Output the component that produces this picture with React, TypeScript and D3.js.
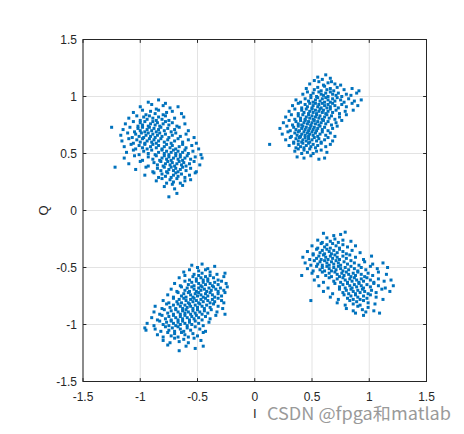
import React from "react";
import * as d3 from "d3";

// Constellation samples, [I, Q] in hundredths (value / 100)
const clusterNE: number[][] = [
  [55,117],[62,119],[66,116],[59,115],
  [48,111],[56,113],[60,110],[64,112],[70,111],[52,114],[67,113],[75,110],
  [45,107],[52,106],[55,108],[58,105],[61,109],[63,106],[66,107],[69,105],[72,108],[78,106],[85,107],[91,105],
  [42,102],[46,104],[49,101],[51,103],[54,100],[56,104],[58,102],[60,101],[62,103],[64,100],[66,104],[68,102],[71,101],[73,103],[76,100],[80,102],[84,101],[89,103],
  [36,97],[40,95],[44,98],[47,96],[49,99],[51,95],[53,97],[55,99],[57,96],[59,98],[61,95],[62,99],[64,97],[66,95],[68,98],[70,96],[72,99],[75,97],[78,95],[82,98],[87,96],[93,97],
  [33,92],[38,94],[41,90],[44,93],[46,91],[48,94],[50,90],[51,92],[53,94],[55,91],[56,93],[58,90],[59,94],[61,92],[63,90],[64,93],[66,91],[68,94],[70,92],[73,90],[76,93],[80,91],[85,94],[90,92],
  [30,87],[35,89],[38,85],[41,88],[43,86],[45,89],[47,85],[48,87],[50,89],[51,86],[53,88],[54,85],[56,87],[57,89],[59,86],[60,88],[62,85],[64,87],[66,89],[68,86],[71,88],[74,85],[79,87],[86,88],
  [27,82],[32,84],[35,80],[38,83],[40,81],[42,84],[44,80],[45,82],[47,84],[48,81],[50,83],[51,80],[53,82],[54,84],[56,81],[57,83],[59,80],[61,82],[63,84],[65,81],[67,83],[70,80],[74,82],[80,84],
  [25,77],[30,79],[33,75],[36,78],[38,76],[40,79],[41,75],[43,77],[44,79],[46,76],[47,78],[49,75],[50,77],[52,79],[53,76],[55,78],[56,75],[58,77],[60,79],[62,76],[64,78],[67,75],[71,77],[76,79],
  [22,72],[28,74],[31,70],[34,73],[36,71],[38,74],[39,70],[41,72],[42,74],[44,71],[45,73],[47,70],[48,72],[49,74],[51,71],[52,73],[54,70],[55,72],[57,74],[59,71],[61,73],[64,70],[68,72],[72,74],
  [24,67],[29,69],[32,65],[35,68],[37,66],[38,69],[40,65],[41,67],[43,69],[44,66],[46,68],[47,65],[48,67],[50,69],[51,66],[53,68],[55,65],[57,67],[59,69],[62,66],[66,68],[70,65],
  [27,62],[31,64],[34,60],[36,63],[38,61],[39,64],[41,60],[42,62],[44,64],[45,61],[47,63],[48,60],[50,62],[52,64],[54,61],[56,63],[58,60],[61,62],[64,64],[68,61],
  [30,57],[34,59],[36,55],[38,58],[40,56],[42,59],[43,55],[45,57],[47,59],[49,56],[51,58],[53,55],[55,57],[58,59],[62,56],[66,58],
  [35,52],[38,54],[41,50],[43,53],[46,51],[48,54],[51,50],[54,52],[58,53],[63,51],
  [37,47],[43,46],[49,48],[56,45],[61,46],
  [13,58]
];

const clusterNW: number[][] = [
  [-84,97],[-93,95],[-78,94],
  [-100,91],[-90,93],[-86,89],[-80,92],[-74,90],[-67,91],
  [-106,86],[-98,88],[-95,84],[-91,87],[-87,85],[-84,88],[-80,84],[-77,86],[-72,87],[-64,85],
  [-110,81],[-103,83],[-100,79],[-97,82],[-94,80],[-92,83],[-89,81],[-86,79],[-84,82],[-81,80],[-78,83],[-75,79],[-70,81],[-62,82],
  [-113,76],[-106,78],[-102,74],[-100,77],[-98,75],[-96,78],[-93,74],[-91,76],[-89,78],[-87,75],[-85,77],[-83,74],[-80,76],[-78,78],[-75,75],[-72,77],[-68,74],[-61,76],
  [-125,73],
  [-115,71],[-109,73],[-105,69],[-102,72],[-100,70],[-98,73],[-96,69],[-94,71],[-92,73],[-90,70],[-88,72],[-86,69],[-84,71],[-82,73],[-79,70],[-76,72],[-73,69],[-70,71],[-66,73],[-58,70],
  [-117,66],[-111,68],[-107,64],[-104,67],[-101,65],[-99,68],[-97,64],[-95,66],[-93,68],[-91,65],[-89,67],[-87,64],[-85,66],[-83,68],[-81,65],[-78,67],[-75,64],[-72,66],[-69,68],[-65,65],[-60,67],[-53,64],
  [-116,61],[-110,63],[-106,59],[-103,62],[-100,60],[-98,63],[-96,59],[-94,61],[-92,63],[-90,60],[-88,62],[-86,59],[-84,61],[-82,63],[-79,60],[-76,62],[-73,59],[-70,61],[-67,63],[-63,60],[-58,62],[-51,59],
  [-114,56],[-108,58],[-104,54],[-101,57],[-98,55],[-96,58],[-94,54],[-91,56],[-89,58],[-86,55],[-84,57],[-81,54],[-79,56],[-77,58],[-74,55],[-72,57],[-69,54],[-66,56],[-63,58],[-60,55],[-55,57],[-49,54],
  [-112,51],[-106,53],[-101,49],[-97,52],[-93,50],[-90,53],[-87,49],[-84,51],[-81,53],[-79,50],[-77,52],[-75,49],[-73,51],[-71,53],[-69,50],[-67,52],[-65,49],[-63,51],[-61,53],[-58,50],[-54,52],[-47,49],
  [-114,46],[-105,48],[-98,44],[-93,47],[-89,45],[-86,48],[-83,44],[-81,46],[-79,48],[-77,45],[-75,47],[-73,44],[-71,46],[-69,48],[-67,45],[-65,47],[-63,44],[-61,46],[-59,48],[-56,45],[-52,47],[-46,46],
  [-110,41],[-100,43],[-93,39],[-88,42],[-85,40],[-82,43],[-80,39],[-78,41],[-76,43],[-74,40],[-72,42],[-70,39],[-68,41],[-66,43],[-64,40],[-62,42],[-60,39],[-57,41],[-53,43],[-48,40],
  [-122,38],[-104,36],[-95,38],[-89,34],[-85,37],[-82,35],[-79,38],[-77,34],[-75,36],[-73,38],[-71,35],[-69,37],[-67,34],[-65,36],[-63,38],[-60,35],[-56,37],[-51,34],
  [-96,31],[-88,33],[-84,29],[-81,32],[-78,30],[-76,33],[-73,29],[-71,31],[-69,33],[-67,30],[-64,32],[-61,29],[-57,31],[-52,33],
  [-86,26],[-81,28],[-77,24],[-74,27],[-71,25],[-68,28],[-65,24],[-61,26],[-56,27],
  [-79,21],[-72,23],[-70,19],[-63,22],
  [-75,12],[-68,15]
];

const clusterSW: number[][] = [
  [-55,-48],[-50,-50],[-46,-47],[-41,-51],[-35,-49],
  [-62,-54],[-57,-52],[-53,-56],[-49,-53],[-46,-55],[-43,-52],[-39,-54],[-33,-56],[-26,-55],
  [-66,-59],[-61,-57],[-57,-61],[-54,-58],[-51,-60],[-49,-57],[-47,-59],[-45,-61],[-43,-58],[-41,-60],[-39,-57],[-36,-59],[-32,-61],[-27,-58],
  [-70,-64],[-65,-66],[-61,-62],[-58,-65],[-55,-63],[-53,-66],[-51,-62],[-49,-64],[-47,-66],[-45,-63],[-43,-65],[-41,-62],[-39,-64],[-37,-66],[-35,-63],[-32,-65],[-29,-62],[-25,-64],
  [-73,-69],[-68,-71],[-64,-67],[-61,-70],[-59,-68],[-57,-71],[-55,-67],[-53,-69],[-51,-71],[-49,-68],[-47,-70],[-46,-67],[-44,-69],[-42,-71],[-40,-68],[-38,-70],[-36,-67],[-34,-69],[-32,-71],[-30,-68],[-27,-70],[-24,-67],
  [-76,-74],[-71,-76],[-67,-72],[-64,-75],[-62,-73],[-60,-76],[-58,-72],[-56,-74],[-54,-76],[-52,-73],[-50,-75],[-49,-72],[-47,-74],[-45,-76],[-43,-73],[-41,-75],[-39,-72],[-37,-74],[-35,-76],[-32,-73],[-29,-75],[-26,-72],
  [-80,-79],[-75,-81],[-71,-77],[-68,-80],[-66,-78],[-64,-81],[-62,-77],[-60,-79],[-58,-81],[-56,-78],[-54,-80],[-53,-77],[-51,-79],[-49,-81],[-47,-78],[-45,-80],[-43,-77],[-41,-79],[-39,-81],[-37,-78],[-35,-80],[-32,-77],[-29,-79],[-27,-81],
  [-87,-84],[-81,-86],[-77,-82],[-74,-85],[-71,-83],[-69,-86],[-67,-82],[-65,-84],[-63,-86],[-61,-83],[-59,-85],[-57,-82],[-56,-84],[-54,-86],[-52,-83],[-50,-85],[-48,-82],[-46,-84],[-44,-86],[-42,-83],[-39,-85],[-36,-82],[-32,-84],[-28,-86],
  [-88,-89],[-83,-91],[-79,-87],[-76,-90],[-73,-88],[-71,-91],[-69,-87],[-67,-89],[-65,-91],[-63,-88],[-61,-90],[-60,-87],[-58,-89],[-56,-91],[-54,-88],[-52,-90],[-50,-87],[-48,-89],[-46,-91],[-44,-88],[-41,-90],[-38,-87],[-33,-89],[-26,-91],
  [-90,-94],[-85,-96],[-81,-92],[-78,-95],[-75,-93],[-73,-96],[-71,-92],[-69,-94],[-67,-96],[-65,-93],[-63,-95],[-61,-92],[-59,-94],[-57,-96],[-55,-93],[-53,-95],[-51,-92],[-49,-94],[-46,-96],[-43,-93],[-39,-95],[-34,-92],
  [-94,-99],[-88,-101],[-83,-97],[-80,-100],[-77,-98],[-75,-101],[-73,-97],[-71,-99],[-69,-101],[-67,-98],[-65,-100],[-63,-97],[-61,-99],[-59,-101],[-57,-98],[-55,-100],[-52,-97],[-49,-99],[-45,-101],[-40,-98],
  [-96,-103],[-95,-105],[-87,-104],[-82,-106],[-78,-102],[-75,-105],[-72,-103],[-70,-106],[-67,-102],[-65,-104],[-62,-106],[-59,-103],[-56,-105],[-52,-102],[-48,-104],[-43,-106],
  [-85,-109],[-80,-111],[-76,-107],[-73,-110],[-70,-108],[-67,-111],[-64,-107],[-61,-109],[-58,-111],[-54,-108],[-50,-110],[-45,-107],
  [-80,-114],[-74,-116],[-70,-112],[-66,-115],[-62,-113],[-58,-116],[-53,-112],[-47,-114],
  [-76,-118],[-66,-123],[-60,-119],[-52,-121],[-45,-119]
];

const clusterSE: number[][] = [
  [60,-20],[69,-22],[75,-21],[79,-19],
  [55,-26],[59,-28],[63,-24],[66,-27],[70,-25],[73,-28],[77,-26],[84,-27],
  [50,-31],[55,-33],[58,-29],[61,-32],[63,-30],[66,-33],[68,-29],[71,-31],[74,-33],[77,-30],[81,-32],[88,-31],
  [46,-36],[51,-38],[54,-34],[57,-37],[59,-35],[61,-38],[63,-34],[65,-36],[67,-38],[69,-35],[72,-37],[74,-34],[77,-36],[80,-38],[85,-35],[92,-37],
  [42,-41],[48,-43],[51,-39],[54,-42],[56,-40],[58,-43],[60,-39],[62,-41],[64,-43],[66,-40],[68,-42],[70,-39],[72,-41],[74,-43],[77,-40],[80,-42],[83,-39],[88,-41],[95,-43],[102,-40],
  [44,-46],[49,-48],[52,-44],[55,-47],[57,-45],[59,-48],[61,-44],[63,-46],[65,-48],[67,-45],[69,-47],[71,-44],[73,-46],[75,-48],[78,-45],[81,-47],[84,-44],[87,-46],[91,-48],[96,-45],[103,-47],[112,-46],
  [46,-51],[51,-53],[54,-49],[57,-52],[59,-50],[61,-53],[63,-49],[65,-51],[67,-53],[69,-50],[71,-52],[73,-49],[75,-51],[77,-53],[79,-50],[82,-52],[84,-49],[87,-51],[90,-53],[93,-50],[97,-52],[101,-49],[107,-51],[116,-50],
  [41,-57],[50,-55],[55,-58],[59,-54],[62,-57],[65,-55],[67,-58],[70,-54],[72,-56],[74,-58],[76,-55],[78,-57],[80,-54],[82,-56],[84,-58],[86,-55],[88,-57],[90,-54],[93,-56],[96,-58],[99,-55],[103,-57],[108,-54],[115,-56],
  [52,-61],[60,-63],[65,-59],[69,-62],[72,-60],[75,-63],[77,-59],[79,-61],[81,-63],[83,-60],[85,-62],[87,-59],[89,-61],[91,-63],[93,-60],[95,-62],[98,-59],[101,-61],[104,-63],[108,-60],[113,-62],[119,-61],
  [56,-66],[64,-68],[70,-64],[74,-67],[77,-65],[79,-68],[81,-64],[83,-66],[85,-68],[87,-65],[89,-67],[91,-64],[93,-66],[95,-68],[98,-65],[101,-67],[104,-64],[108,-66],[114,-68],[121,-66],
  [60,-71],[68,-73],[74,-69],[77,-72],[80,-70],[82,-73],[84,-69],[86,-71],[88,-73],[90,-70],[92,-72],[94,-69],[96,-71],[99,-73],[102,-70],[106,-72],[111,-69],[118,-71],
  [66,-76],[73,-78],[78,-74],[81,-77],[84,-75],[86,-78],[88,-74],[90,-76],[92,-78],[95,-75],[98,-77],[101,-74],[106,-76],[112,-78],
  [49,-79],[72,-81],[79,-83],[83,-79],[86,-82],[89,-80],[92,-83],[95,-79],[99,-81],[105,-82],
  [80,-86],[86,-88],[90,-84],[94,-87],[99,-85],[104,-88],
  [88,-90],[95,-92],[97,-89],[109,-90]
];

const tickValues = [-1.5, -1, -0.5, 0, 0.5, 1, 1.5];
const tickLabels = ["-1.5", "-1", "-0.5", "0", "0.5", "1", "1.5"];
const xLabel = "I";
const yLabel = "Q";
const watermark = "CSDN @fpga和matlab";

const W = 464;
const H = 434;
const M = { left: 83, right: 426.5, top: 39.5, bottom: 381.5 };
const AXIS = "#262626";
const GRID = "#e3e3e3";
const BLUE = "#0072BD";
const FONT = "'Liberation Sans', Arial, Helvetica, sans-serif";

export default function App() {
  const x = d3.scaleLinear().domain([-1.5, 1.5]).range([M.left, M.right]);
  const y = d3.scaleLinear().domain([-1.5, 1.5]).range([M.bottom, M.top]);
  const all = [...clusterNE, ...clusterNW, ...clusterSW, ...clusterSE];
  const tl = 3.4;

  return (
    <svg
      width={W}
      height={H}
      viewBox={`0 0 ${W} ${H}`}
      style={{ position: "absolute", left: 0, top: 0, background: "#fff" }}
    >
      <rect x={0} y={0} width={W} height={H} fill="#fff" />
      {/* grid */}
      {tickValues.map((t) => (
        <g key={"g" + t}>
          <line x1={x(t)} x2={x(t)} y1={M.top} y2={M.bottom} stroke={GRID} strokeWidth={1} />
          <line x1={M.left} x2={M.right} y1={y(t)} y2={y(t)} stroke={GRID} strokeWidth={1} />
        </g>
      ))}
      {/* points */}
      <g fill={BLUE}>
        {all.map((p, i) => (
          <rect key={i} x={x(p[0] / 100) - 1.5} y={y(p[1] / 100) - 1.5} width={3} height={3} />
        ))}
      </g>
      {/* box */}
      <rect
        x={M.left}
        y={M.top}
        width={M.right - M.left}
        height={M.bottom - M.top}
        fill="none"
        stroke={AXIS}
        strokeWidth={1}
      />
      {/* ticks */}
      {tickValues.map((t) => (
        <g key={"t" + t} stroke={AXIS} strokeWidth={1}>
          <line x1={x(t)} x2={x(t)} y1={M.bottom} y2={M.bottom - tl} />
          <line x1={x(t)} x2={x(t)} y1={M.top} y2={M.top + tl} />
          <line x1={M.left} x2={M.left + tl} y1={y(t)} y2={y(t)} />
          <line x1={M.right} x2={M.right - tl} y1={y(t)} y2={y(t)} />
        </g>
      ))}
      {/* tick labels */}
      {tickValues.map((t, i) => (
        <text
          key={"xl" + t}
          x={x(t)}
          y={M.bottom + 19}
          textAnchor="middle"
          fontFamily={FONT}
          fontSize={12}
          fill={AXIS}
        >
          {tickLabels[i]}
        </text>
      ))}
      {tickValues.map((t, i) => (
        <text
          key={"yl" + t}
          x={M.left - 6}
          y={y(t) + 4.3}
          textAnchor="end"
          fontFamily={FONT}
          fontSize={12}
          fill={AXIS}
        >
          {tickLabels[i]}
        </text>
      ))}
      {/* axis labels */}
      <text
        x={x(0)}
        y={418}
        textAnchor="middle"
        fontFamily={FONT}
        fontSize={13}
        fill={AXIS}
      >
        {xLabel}
      </text>
      <text
        transform={`translate(48, ${y(0)}) rotate(-90)`}
        textAnchor="middle"
        fontFamily={FONT}
        fontSize={13}
        fill={AXIS}
      >
        {yLabel}
      </text>
      {/* watermark */}
      <text
        x={267}
        y={420}
        fontFamily="'Noto Sans CJK SC', 'Liberation Sans', sans-serif"
        fontSize={17}
        textLength={184}
        lengthAdjust="spacingAndGlyphs"
        fill="#9a9a9a"
      >
        {watermark}
      </text>
    </svg>
  );
}
